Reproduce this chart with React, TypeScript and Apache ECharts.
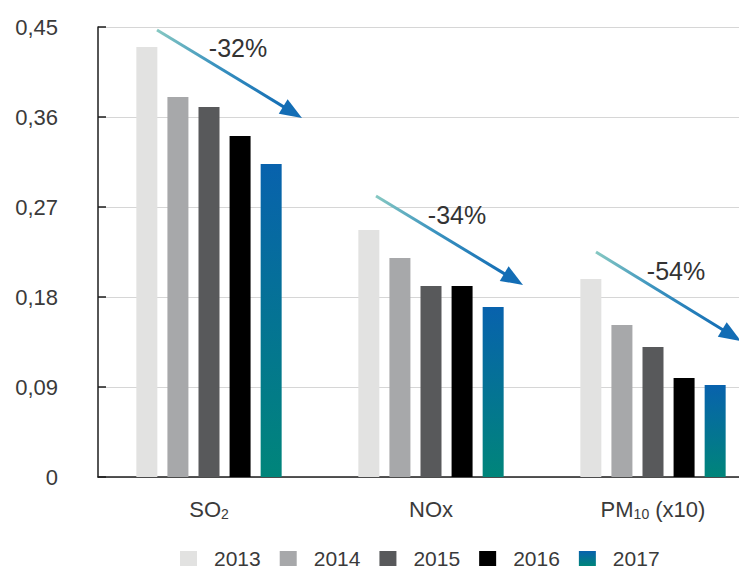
import React, { useEffect, useRef } from "react";
import * as echarts from "echarts";

const categories = ["SO2", "NOx", "PM10"];
const years = ["2013", "2014", "2015", "2016", "2017"];
const v2013 = [0.43, 0.247, 0.198];
const v2014 = [0.38, 0.219, 0.152];
const v2015 = [0.37, 0.191, 0.13];
const v2016 = [0.341, 0.191, 0.099];
const v2017 = [0.313, 0.17, 0.092];
const seriesValues = [v2013, v2014, v2015, v2016, v2017];
const yTicks = [0, 0.09, 0.18, 0.27, 0.36, 0.45];
const changeLabels = ["-32%", "-34%", "-54%"];

const FONT = "'Liberation Sans', Arial, Helvetica, sans-serif";
const TEXT = "#3a3a3a";

const barColors: any[] = [
  "#e2e2e1",
  "#a7a8aa",
  "#58595b",
  "#000000",
  new echarts.graphic.LinearGradient(0, 0, 0, 1, [
    { offset: 0, color: "#0862ad" },
    { offset: 1, color: "#00857a" },
  ]),
];

// arrow annotations: [tailX, tailY, tipX, tipY, labelX, labelY]
const arrowGeom = [
  [157, 30, 302, 118, 238, 48],
  [376, 196, 523, 285, 457, 215],
  [596, 252, 741, 341, 676, 271],
];

function arrow(g: number[], label: string) {
  const [x1, y1, x2, y2, lx, ly] = g;
  const dx = x2 - x1;
  const dy = y2 - y1;
  const len = Math.sqrt(dx * dx + dy * dy);
  const ux = dx / len;
  const uy = dy / len;
  const nx = -uy;
  const ny = ux;
  const headLen = 22;
  const headHalf = 8.5;
  const bx = x2 - ux * headLen;
  const by = y2 - uy * headLen;
  return [
    {
      type: "line",
      shape: { x1, y1, x2: bx + ux * 2, y2: by + uy * 2 },
      style: {
        lineWidth: 3,
        stroke: new echarts.graphic.LinearGradient(0, 0, 1, 0, [
          { offset: 0, color: "#86c8c2" },
          { offset: 0.45, color: "#3b93bf" },
          { offset: 1, color: "#136db5" },
        ]),
      },
      z: 100,
    },
    {
      type: "polygon",
      shape: {
        points: [
          [x2, y2],
          [bx + nx * headHalf, by + ny * headHalf],
          [bx - nx * headHalf, by - ny * headHalf],
        ],
      },
      style: { fill: "#136db5" },
      z: 100,
    },
    {
      type: "text",
      x: lx,
      y: ly,
      style: {
        text: label,
        fill: "#333",
        font: `25px ${FONT}`,
        align: "center",
        verticalAlign: "middle",
      },
      z: 100,
    },
  ];
}

export default function App() {
  const ref = useRef<HTMLDivElement>(null);
  useEffect(() => {
    if (!ref.current) return;
    const chart = echarts.init(ref.current, undefined, { renderer: "svg" });
    const graphics: any[] = [];
    arrowGeom.forEach((g, i) => graphics.push(...arrow(g, changeLabels[i])));
    chart.setOption({
      animation: false,
      textStyle: { fontFamily: FONT },
      grid: { left: 98, top: 27, width: 666, bottom: 93, outerBoundsMode: "none", containLabel: false },
      legend: {
        left: 180,
        top: 548,
        icon: "rect",
        itemWidth: 17,
        itemHeight: 15,
        itemGap: 19,
        padding: 0,
        textStyle: {
          fontSize: 21,
          lineHeight: 17,
          color: TEXT,
          fontFamily: FONT,
          padding: [0, 0, 0, 12],
        },
        data: years,
      },
      xAxis: {
        type: "category",
        data: categories,
        axisLine: { lineStyle: { color: "#1e1e1e", width: 1.5 } },
        axisTick: { inside: true, length: 8, lineStyle: { color: "#1e1e1e", width: 1.5 } },
        axisLabel: {
          interval: 0,
          hideOverlap: false,
          margin: 20,
          color: TEXT,
          fontSize: 22,
          fontFamily: FONT,
          formatter: (v: string) => {
            if (v === "SO2") return "{n|SO}{s|2}";
            if (v === "PM10") return "{n|PM}{s|10}{n| (x10)}";
            return "{n|" + v + "}";
          },
          rich: {
            n: { fontSize: 22, color: TEXT, fontFamily: FONT, lineHeight: 24 },
            s: {
              fontSize: 14,
              color: TEXT,
              fontFamily: FONT,
              verticalAlign: "bottom",
              lineHeight: 14,
            },
          },
        },
      },
      yAxis: {
        type: "value",
        min: yTicks[0],
        max: yTicks[yTicks.length - 1],
        interval: yTicks[1] - yTicks[0],
        axisLine: { show: true, lineStyle: { color: "#1e1e1e", width: 1.5 } },
        axisTick: { show: true, inside: true, length: 8, lineStyle: { color: "#1e1e1e", width: 1.5 } },
        splitLine: { lineStyle: { color: "#d6d6d6", width: 1 } },
        axisLabel: {
          margin: 40,
          color: TEXT,
          fontSize: 22,
          fontFamily: FONT,
          formatter: (v: number) => (v === 0 ? "0" : v.toFixed(2).replace(".", ",")),
        },
      },
      series: years.map((y, i) => ({
        name: y,
        type: "bar",
        data: seriesValues[i],
        barWidth: 21,
        barGap: "48%",
        itemStyle: { color: barColors[i] },
      })),
      graphic: graphics,
    });
    return () => chart.dispose();
  }, []);
  return (
    <div
      ref={ref}
      style={{ position: "fixed", left: 0, top: 0, width: 739, height: 570, background: "#fff" }}
    />
  );
}
